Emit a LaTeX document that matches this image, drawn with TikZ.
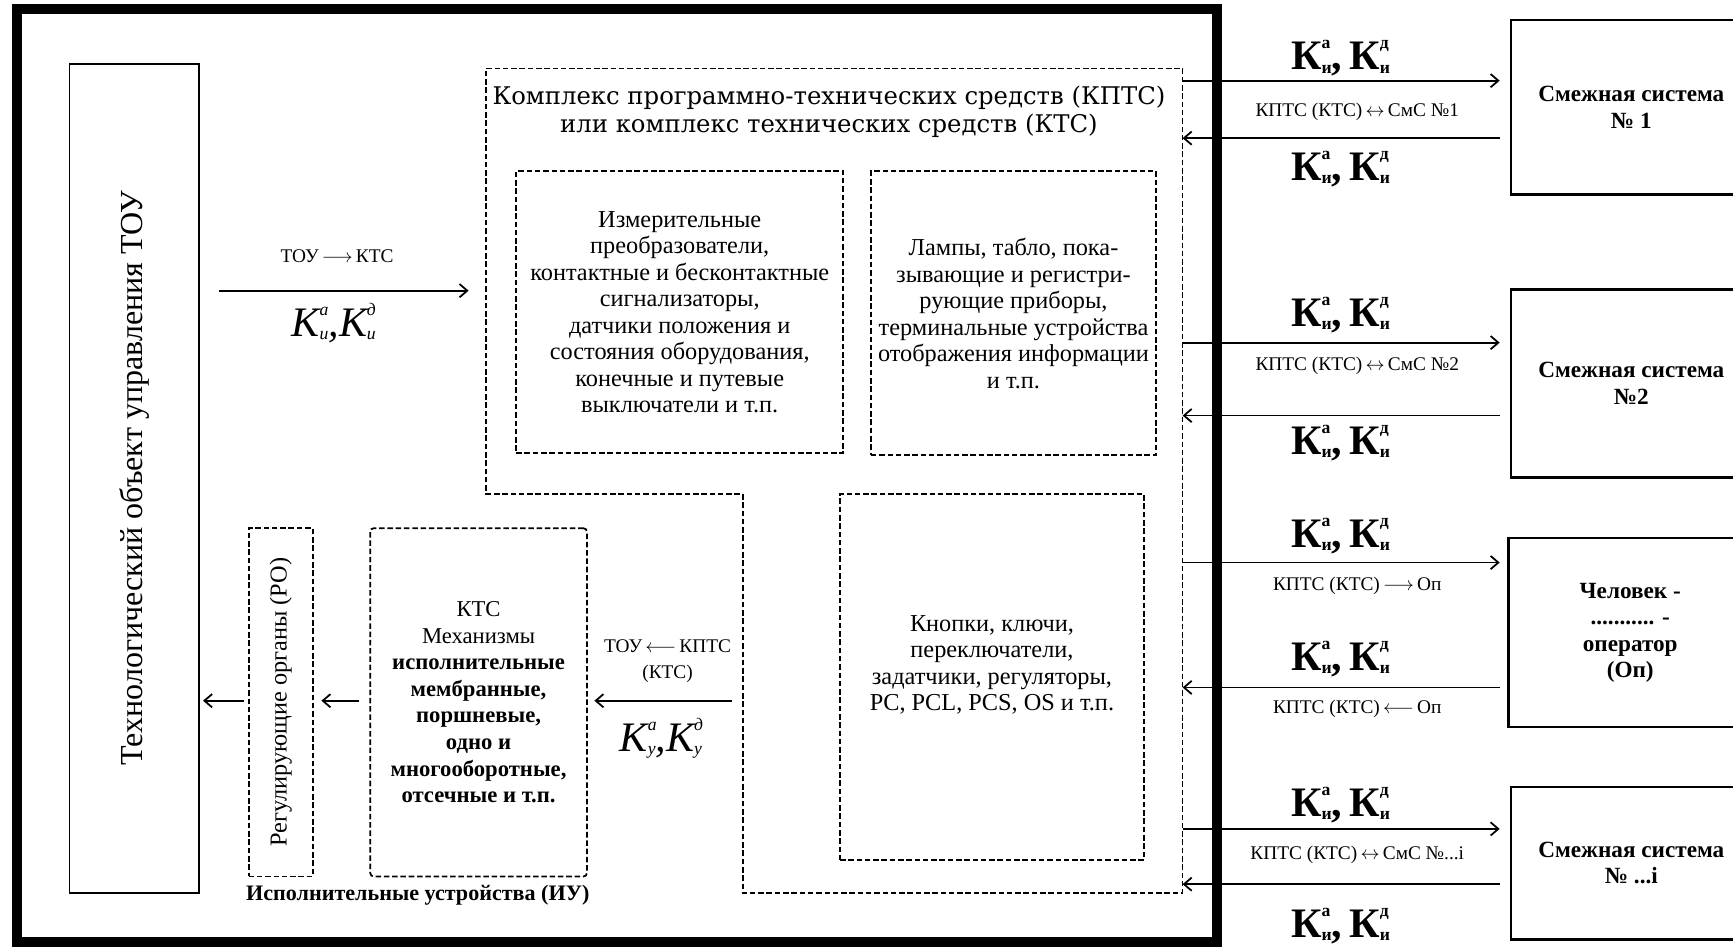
\documentclass[tikz,border=0pt]{standalone}
\usepackage{fontspec}
\setmainfont{Liberation Serif}
\newfontfamily\titlefont{DejaVu Serif}
\usetikzlibrary{arrows.meta,calc}
\newcommand{\idx}[2]{\makebox[0pt][l]{\raisebox{0.5em}{\scalebox{0.42}{#1}}}\raisebox{-0.08em}{\scalebox{0.42}{#2}}}
\newcommand{\KKb}{К\idx{а}{и},\,К\idx{д}{и}}
\newcommand{\ra}{\,$\longrightarrow$\,}
\newcommand{\la}{\,$\longleftarrow$\,}
\newcommand{\lra}{\,$\leftrightarrow$\,}
\begin{document}
\begin{tikzpicture}[x=1pt,y=-1pt,
  dline/.style={dash pattern=on 5pt off 2.5pt,line width=1.6pt},
  dbox/.style={draw,dline,inner sep=0pt,align=center},
  sbox/.style={draw,line width=2.2pt,inner sep=0pt,align=center,font=\fontsize{21}{24}\selectfont\bfseries},
  btxt/.style={align=center,font=\fontsize{22}{24}\selectfont,inner sep=0pt},
  lab/.style={font=\fontsize{17.5}{24}\selectfont,inner sep=0pt,align=center},
  klab/.style={font=\fontsize{38}{40}\selectfont\bfseries,inner sep=0pt},
  kit/.style={font=\fontsize{38}{40}\selectfont\itshape,inner sep=0pt},
  arr/.style={line width=1.6pt,-{Straight Barb[length=7pt,width=12pt]}},
]
\useasboundingbox (0,0) rectangle (1568,858);
\clip (0,0) rectangle (1568,858);

% thick outer frame
\draw[line width=9pt] (15,8) rectangle (1101,852);

% TOU
\node[draw,line width=1.4pt,minimum width=117pt,minimum height=750pt,inner sep=0pt] (tou) at (121.5,433) {};
\node[rotate=90,font=\fontsize{29}{29}\selectfont,inner sep=0pt] (tout) at (tou.center) {Технологический объект управления ТОУ};

% KPTS outline
\coordinate (kTL) at (440,62);
\coordinate (kTR) at (1070,62);
\coordinate (kBR) at (1070,808);
\coordinate (kBL) at (672,808);
\coordinate (kS) at (672,447);
\coordinate (kSL) at (440,447);
\draw[dline] (kTL) -- (kTR) -- (kBR) -- (kBL) -- (kS) -- (kSL) -- cycle;
\node[font=\titlefont\fontsize{22}{25}\selectfont,align=center,inner sep=0pt] (title) at (750,101)
  {Комплекс программно-технических средств (КПТС)\\или комплекс технических средств (КТС)};

% inner boxes
\node[dbox,btxt,minimum width=296pt,minimum height=255pt] (izm) at (615,282.5)
  {Измерительные\\преобразователи,\\контактные и бесконтактные\\сигнализаторы,\\датчики положения и\\состояния оборудования,\\конечные и путевые\\выключатели и т.п.};
\node[dbox,btxt,minimum width=258pt,minimum height=257pt] (lamp) at (917,283.5)
  {Лампы, табло, пока-\\зывающие и регистри-\\рующие приборы,\\терминальные устройства\\отображения информации\\и т.п.};
\node[dbox,minimum width=275pt,minimum height=331pt] (knop) at (897.5,612.5) {};
\node[btxt] (knopt) at ([yshift=11pt]knop.center)
  {Кнопки, ключи,\\переключатели,\\задатчики, регуляторы,\\PC, PCL, PCS, OS и т.п.};
\node[dbox,minimum width=196pt,minimum height=315pt,rounded corners=3pt] (mech) at (433,635.5) {};
\node[align=center,inner sep=0pt,font=\fontsize{20.5}{24}\selectfont] (mecht) at (mech.center)
  {КТС\\Механизмы\\\textbf{исполнительные}\\\textbf{мембранные,}\\\textbf{поршневые,}\\\textbf{одно и}\\\textbf{многооборотные,}\\\textbf{отсечные и т.п.}};
\node[dbox,minimum width=58pt,minimum height=315pt] (ro) at (254,635.5) {};
\node[rotate=90,font=\fontsize{22}{24}\selectfont,inner sep=0pt] (rot) at (ro.center) {Регулирующие органы (РО)};
\node[font=\fontsize{20}{24}\selectfont\bfseries,inner sep=0pt] (iu) at (378,810) {Исполнительные устройства (ИУ)};

% left arrows
\coordinate (kin) at (kSL |- 0,263);
\draw[arr,shorten <=17pt,shorten >=16pt] (tou.east |- kin) -- (kin);
\node[lab] (l1) at (305,232) {ТОУ\ra КТС};
\node[kit] (k1) at (302,292) {К\idx{а}{и},К\idx{д}{и}};

\coordinate (kout) at (672,634);
\draw[arr,shorten <=10pt,shorten >=6pt] (kout) -- (kout -| mech.east);
\node[lab] (l2) at (604,598) {ТОУ\la КПТС\\(КТС)};
\node[kit] (k2) at (598,668) {К\idx{а}{у},К\idx{д}{у}};
\draw[arr,shorten <=9pt,shorten >=7pt] (mech.west |- kout) -- (ro.east |- kout);
\draw[arr,shorten <=3pt,shorten >=3pt] (ro.west |- kout) -- (tou.east |- kout);

% right systems
\node[sbox,minimum width=218pt,minimum height=158pt] (smc1) at (1476,97) {Смежная система\\№ 1};
\node[sbox,minimum width=218pt,minimum height=170pt] (smc2) at (1476,347) {Смежная система\\№2};
\node[sbox,minimum width=220pt,minimum height=171pt] (op) at (1475,572.5) {Человек -\\........... -\\оператор\\(Оп)};
\node[sbox,minimum width=218pt,minimum height=138pt] (smci) at (1476,781) {Смежная система\\№ ...i};

\coordinate (r1o) at (kTR |- 0,73);
\coordinate (r1i) at (kTR |- 0,125);
\coordinate (r2o) at (kTR |- 0,310);
\coordinate (r2i) at (kTR |- 0,376);
\coordinate (r3o) at (kTR |- 0,509);
\coordinate (r3i) at (kTR |- 0,622);
\coordinate (r4o) at (kTR |- 0,750);
\coordinate (r4i) at (kTR |- 0,800);

\draw[arr,shorten >=9pt] (r1o) -- (r1o -| smc1.west);
\draw[arr,shorten <=9pt] (r1i -| smc1.west) -- (r1i);
\draw[arr,shorten >=9pt] (r2o) -- (r2o -| smc2.west);
\draw[arr,shorten <=9pt] (r2i -| smc2.west) -- (r2i);
\draw[arr,shorten >=7pt] (r3o) -- (r3o -| op.west);
\draw[arr,shorten <=7pt] (r3i -| op.west) -- (r3i);
\draw[arr,shorten >=9pt] (r4o) -- (r4o -| smci.west);
\draw[arr,shorten <=9pt] (r4i -| smci.west) -- (r4i);

\node[klab] (ka1) at (1213,53) {\KKb};
\node[lab] (la1) at (1228,101) {КПТС (КТС)\lra СмС №1};
\node[klab] (kb1) at (1213,153) {\KKb};
\node[klab] (ka2) at (1213,285) {\KKb};
\node[lab] (la2) at (1228,331) {КПТС (КТС)\lra СмС №2};
\node[klab] (kb2) at (1213,401) {\KKb};
\node[klab] (ka3) at (1213,485) {\KKb};
\node[lab] (la3) at (1228,530) {КПТС (КТС)\ra Оп};
\node[klab] (kb3) at (1213,596) {\KKb};
\node[lab] (lb3) at (1228,641) {КПТС (КТС)\la Оп};
\node[klab] (ka4) at (1213,728) {\KKb};
\node[lab] (la4) at (1228,773) {КПТС (КТС)\lra СмС №...i};
\node[klab] (kb4) at (1213,838) {\KKb};
\end{tikzpicture}
\end{document}
